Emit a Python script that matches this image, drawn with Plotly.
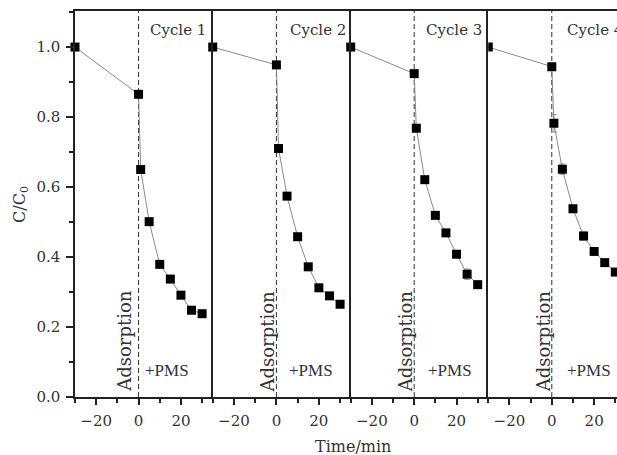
import plotly.graph_objects as go

# ---- data ----
time_min = [-30, 0, 1, 5, 10, 15, 20, 25, 30]
cycle_names = ["Cycle 1", "Cycle 2", "Cycle 3", "Cycle 4"]
cycle1 = [1.0, 0.865, 0.650, 0.501, 0.379, 0.337, 0.291, 0.248, 0.238]
cycle2 = [1.0, 0.949, 0.710, 0.574, 0.458, 0.372, 0.312, 0.289, 0.265]
cycle3 = [1.0, 0.924, 0.768, 0.621, 0.519, 0.469, 0.408, 0.351, 0.321]
cycle4 = [1.0, 0.944, 0.782, 0.651, 0.538, 0.460, 0.416, 0.384, 0.357]
err1 = [0, 0, 0, 0, 0, 0, 0, 0, 0]
err2 = [0, 0, 0, 0, 0, 0, 0, 0, 0]
err3 = [0, 0, 0.005, 0, 0, 0, 0, 0.015, 0]
err4 = [0, 0, 0.025, 0.015, 0, 0.012, 0, 0, 0]
y_tick_vals = [0.0, 0.2, 0.4, 0.6, 0.8, 1.0]
y_tick_text = ["0.0", "0.2", "0.4", "0.6", "0.8", "1.0"]
x_tick_vals = [-20, 0, 20]
x_tick_text = ["\u221220", "0", "20"]

series = [cycle1, cycle2, cycle3, cycle4]
errors = [err1, err2, err3, err4]

# ---- layout constants ----
domains = [[0.0, 0.2541], [0.2541, 0.5087], [0.5087, 0.7625], [0.7625, 1.0]]
xranges = [[-30, 35], [-30, 35], [-30, 35], [-30, 30.8]]
ads_x = [-7.0, -4.2, -4.2, -4.0]
pms_x = [2.2, 5.2, 5.4, 6.3]
cyc_x = [4.6, 5.4, 4.5, 6.2]

FONT = "DejaVu Serif"
AX = "#222222"
TXT = "#333333"

fig = go.Figure()

for i in range(4):
    xa = "x" if i == 0 else f"x{i+1}"
    ya = "y" if i == 0 else f"y{i+1}"
    fig.add_trace(go.Scatter(
        x=time_min, y=series[i], xaxis=xa, yaxis=ya,
        mode="lines+markers",
        line=dict(color="#8a8a8a", width=1),
        marker=dict(symbol="square", size=9, color="black"),
        error_y=dict(type="data", array=errors[i], color="#999999",
                     thickness=1, width=3, visible=True),
        showlegend=False, cliponaxis=False if i < 3 else True,
    ))

layout = dict(
    width=617, height=455,
    margin=dict(l=75, r=0, t=11, b=58),
    paper_bgcolor="white", plot_bgcolor="white",
    font=dict(family=FONT, size=15, color=TXT),
    showlegend=False,
)

for i in range(4):
    xkey = "xaxis" if i == 0 else f"xaxis{i+1}"
    ykey = "yaxis" if i == 0 else f"yaxis{i+1}"
    ya = "y" if i == 0 else f"y{i+1}"
    xa = "x" if i == 0 else f"x{i+1}"
    layout[xkey] = dict(
        domain=domains[i], range=xranges[i], anchor=ya,
        showline=True, linecolor=AX, linewidth=1.5, mirror=True,
        showgrid=False, zeroline=False,
        ticks="outside", ticklen=6, tickwidth=1.5, tickcolor=AX,
        tickvals=x_tick_vals, ticktext=x_tick_text,
        tickfont=dict(family=FONT, size=15, color=TXT),
        ticklabelstandoff=3,
        minor=dict(ticks="outside", ticklen=4, tickwidth=1.5, tickcolor=AX, dtick=10, tick0=0),
    )
    ydict = dict(
        domain=[0, 1], range=[0, 1.103], anchor=xa,
        showline=True, linecolor=AX, linewidth=1.5,
        showgrid=False, zeroline=False,
    )
    if i == 0:
        ydict.update(
            ticks="outside", ticklen=7, tickwidth=1.5, tickcolor=AX,
            tickvals=y_tick_vals, ticktext=y_tick_text,
            tickfont=dict(family=FONT, size=15, color=TXT),
            ticklabelstandoff=3,
            minor=dict(ticks="outside", ticklen=4, tickwidth=1.5, tickcolor=AX, dtick=0.1, tick0=0),
        )
    else:
        ydict.update(matches="y", showticklabels=False, ticks="")
    layout[ykey] = ydict

fig.update_layout(**layout)

shapes = []
annotations = []
for i in range(4):
    xa = "x" if i == 0 else f"x{i+1}"
    ya = "y" if i == 0 else f"y{i+1}"
    shapes.append(dict(type="line", xref=xa, yref=f"{ya} domain",
                       x0=0, x1=0, y0=0, y1=1,
                       line=dict(color="#333333", width=1, dash="5px,3px"),
                       layer="below"))
    annotations.append(dict(x=cyc_x[i], y=1.049, xref=xa, yref=ya,
                            text=cycle_names[i], showarrow=False,
                            xanchor="left", yanchor="middle",
                            font=dict(family=FONT, size=15, color=TXT)))
    annotations.append(dict(x=ads_x[i], y=0.16, xref=xa, yref=ya,
                            text="Adsorption", showarrow=False, textangle=-90,
                            xanchor="center", yanchor="middle",
                            font=dict(family=FONT, size=18, color=TXT)))
    annotations.append(dict(x=pms_x[i], y=0.075, xref=xa, yref=ya,
                            text="+PMS", showarrow=False,
                            xanchor="left", yanchor="middle",
                            font=dict(family="Liberation Serif", size=17, color=TXT)))

annotations.append(dict(x=-0.1015, y=0.5, xref="paper", yref="paper",
                        text="C/C<sub>0</sub>", showarrow=False, textangle=-90,
                        xanchor="center", yanchor="middle",
                        font=dict(family=FONT, size=16, color=TXT)))
annotations.append(dict(x=0.513, y=-0.127, xref="paper", yref="paper",
                        text="Time/min", showarrow=False,
                        xanchor="center", yanchor="middle",
                        font=dict(family=FONT, size=16, color=TXT)))

fig.update_layout(shapes=shapes, annotations=annotations)
fig.write_html(
    "out.html",
    config={"displayModeBar": False},
    post_script="document.body.style.margin='0';document.body.style.overflow='hidden';",
)
